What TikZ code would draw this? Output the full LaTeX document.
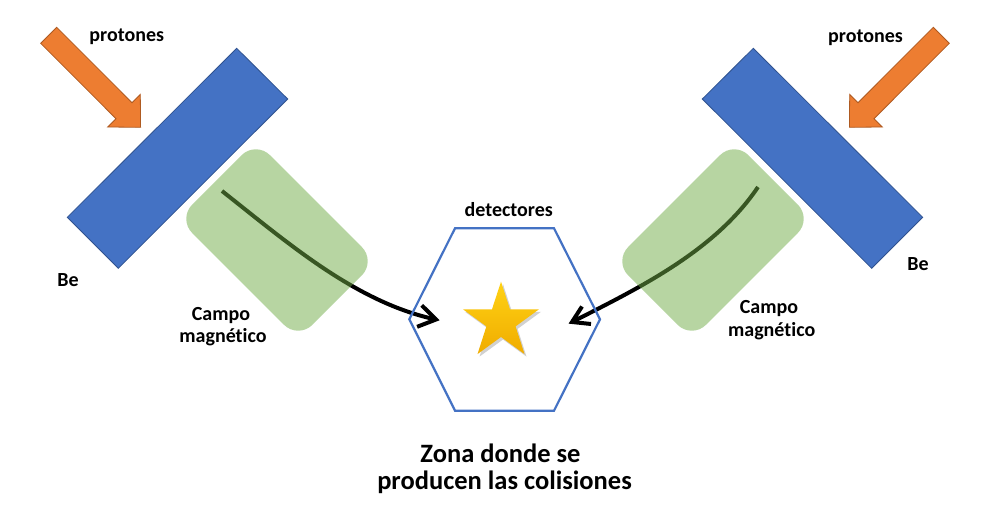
\documentclass[tikz,border=0pt]{standalone}
\usepackage{fontspec}
\setmainfont{Carlito}[Ligatures=NoCommon]
\definecolor{beblue}{HTML}{4472C4}
\definecolor{beborder}{HTML}{2F528F}
\definecolor{porange}{HTML}{ED7D31}
\definecolor{pborder}{HTML}{AE5A21}
\definecolor{fgreen}{HTML}{70AD47}
\definecolor{hexblue}{HTML}{4472C4}
\definecolor{startop}{RGB}{255,210,20}
\definecolor{starbot}{RGB}{240,172,0}
\begin{document}
\begin{tikzpicture}[x=1pt,y=-1pt,
  lbl/.style={font=\fontsize{20}{23}\selectfont\bfseries, inner sep=0pt, anchor=base},
  biglbl/.style={font=\fontsize{26.5}{27}\selectfont\bfseries, inner sep=0pt, anchor=base},
  target/.style={fill=beblue, draw=beborder, line width=0.8pt},
  beam/.style={fill=porange, draw=pborder, line width=0.8pt},
  field/.style={fill=fgreen, fill opacity=0.5, rounded corners=20pt},
  track/.style={line width=4pt},
  barb/.style={line width=4pt, line join=miter},
  detector/.style={draw=hexblue, line width=2.2pt, line join=miter}
]
\useasboundingbox (0,0) rectangle (988,511);
\fill[white] (0,0) rectangle (988,511);

% Be targets
\draw[target] (236.7,48.3) -- (287.7,99) -- (118.3,268.3) -- (67.3,217.3) -- cycle;
\draw[target] (753.3,48.3) -- (702.3,99) -- (871.7,268.3) -- (922.7,217.3) -- cycle;

% proton arrows
\draw[beam] (56.7,27.3) -- (132,102.7) -- (140.3,94.4) -- (140.6,127.3) -- (107.7,127) -- (116,118.7) -- (40.7,43.3) -- cycle;
\draw[beam] (933.3,27.3) -- (858,102.7) -- (849.7,94.4) -- (849.4,127.3) -- (882.3,127) -- (874,118.7) -- (949.3,43.3) -- cycle;

% trajectories
\coordinate (lstart) at (222,191);
\coordinate (ltip) at (436,319.5);
\coordinate (lb1) at (421.7,305.3);
\coordinate (lb2) at (417.1,326.8);
\coordinate (rstart) at (758,187);
\coordinate (rtip) at (572,322);
\coordinate (rb1) at (582,306.5);
\coordinate (rb2) at (591,324);
\draw[track] (lstart) .. controls (288,243) and (356,302.5) .. (ltip);
\draw[barb] (lb1) -- (ltip) -- (lb2);
\draw[track] (rstart) .. controls (715,251) and (639,288) .. (rtip);
\draw[barb] (rb1) -- (rtip) -- (rb2);

% magnetic field regions
\fill[field] (255.8,141.0) -- (376,261.2) -- (298.2,339) -- (178,218.8) -- cycle;
\fill[field] (734.2,141.0) -- (614,261.2) -- (691.8,339) -- (812,218.8) -- cycle;

% detector hexagon
\draw[detector] (455,228.3) -- (554,228.3) -- (600,319.3) -- (554,410.7) -- (455,410.7) -- (409.3,319.3) -- cycle;

% star
\fill[black, opacity=0.18, xshift=2pt, yshift=-2.5pt]
  (501,281.7) -- (510.0,309.3) -- (539.0,309.3) -- (515.6,326.4) -- (524.5,354.1)
  -- (501,337.0) -- (477.5,354.1) -- (486.4,326.4) -- (463.0,309.3) -- (492.0,309.3) -- cycle;
\shade[top color=startop, bottom color=starbot]
  (501,281.7) -- (510.0,309.3) -- (539.0,309.3) -- (515.6,326.4) -- (524.5,354.1)
  -- (501,337.0) -- (477.5,354.1) -- (486.4,326.4) -- (463.0,309.3) -- (492.0,309.3) -- cycle;

% labels
\node[lbl] (protL) at (126.8,41.7) {protones};
\node[lbl] (protR) at (865.5,42.7) {protones};
\node[lbl] (beL) at (68,286.7) {Be};
\node[lbl] (beR) at (918,270) {Be};
\node[lbl] (campoL) at (221,320) {Campo};
\node[lbl] (magL) at (223,342) {magnético};
\node[lbl] (campoR) at (769,313.3) {Campo};
\node[lbl] (magR) at (771.7,336.3) {magnético};
\node[lbl] (det) at (508.8,216) {detectores};
\node[biglbl] (zona1) at (500.5,462) {Zona donde se};
\node[biglbl] (zona2) at (504.5,489.5) {producen las colisiones};
\end{tikzpicture}
\end{document}
